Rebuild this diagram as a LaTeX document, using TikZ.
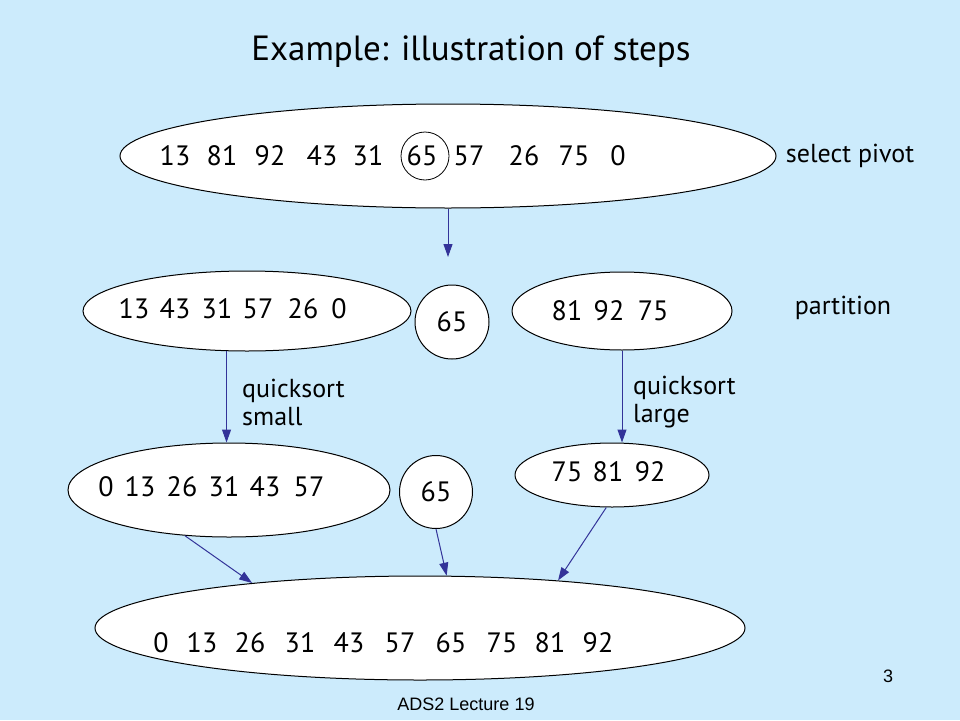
\documentclass[tikz,border=0pt]{standalone}
\usepackage{fontspec}
\setmainfont{PT Sans}
\newfontfamily\footfont{Liberation Sans}
\usetikzlibrary{positioning, arrows.meta, shapes.geometric}
\definecolor{slidebg}{HTML}{CCEBFC}
\definecolor{arrowblue}{HTML}{333399}

\begin{document}
\begin{tikzpicture}[
    x=1pt, y=-1pt,
    >={Triangle[length=13pt, width=9pt]},
    blob/.style={draw, ellipse, fill=white, line width=1pt, inner sep=0pt},
    ring/.style={draw, circle, fill=white, line width=1pt, inner sep=0pt},
    num/.style={font=\fontsize{28}{32}\selectfont, inner sep=0pt},
    lbl/.style={font=\fontsize{26}{28}\selectfont, inner sep=0pt, align=left},
    arr/.style={->, arrowblue, line width=1pt},
]
\fill[slidebg] (0,0) rectangle (960,720);
\useasboundingbox (0,0) rectangle (960,720);

\node[font=\fontsize{35}{40}\selectfont] (title) at (471,52) {Example: illustration of steps};

% select pivot
\node[blob, minimum width=656, minimum height=104] (top) at (448,156) {};
\foreach \v/\x in {13/175, 81/222, 92/270, 43/322, 31/368, 65/422, 57/469, 26/524, 75/574, 0/618}
  \node[num] (top\v) at (\x,156) {\v};
\node[draw, circle, line width=0.8pt, minimum size=48] (pivot) at (425,156) {};
\node[lbl] (selp) at (850,156) {select pivot};
\coordinate (pv) at (448,257);
\draw[arr] (top.south) -- (pv);

% partition
\node[blob, minimum width=328, minimum height=80] (ml) at (247,311) {};
\foreach \v/\x in {13/134, 43/175, 31/217, 57/258, 26/303, 0/339}
  \node[num] (ml\v) at (\x,309) {\v};
\node[ring, minimum size=74, num] (mc) at (452,322) {65};
\node[blob, minimum width=220, minimum height=78] (mr) at (622,311) {};
\foreach \v/\x in {81/567, 92/609, 75/653}
  \node[num] (mr\v) at (\x,311) {\v};
\node[lbl] (part) at (843,308) {partition};

% sorted parts
\node[blob, minimum width=322, minimum height=94] (bl) at (229,490) {};
\foreach \v/\x in {0/106, 13/140, 26/182, 31/224, 43/265, 57/309}
  \node[num] (bl\v) at (\x,487) {\v};
\node[ring, minimum size=73, num] (bc) at (436,492) {65};
\node[blob, minimum width=194, minimum height=64] (br) at (612,475) {};
\foreach \v/\x in {75/567, 81/608, 92/650}
  \node[num] (br\v) at (\x,472) {\v};

\draw[arr] (ml.-117) -- (ml.-117 |- bl.north);
\draw[arr] (mr.south) -- (mr.south |- br.north);
\node[lbl, anchor=west] (qss) at (242,402) {quicksort\\small};
\node[lbl, anchor=west] (qsl) at (633,402) {quicksort\\large};

% result
\node[blob, minimum width=650, minimum height=104] (bot) at (420,628) {};
\foreach \v/\x in {0/161, 13/202, 26/250, 31/300, 43/349, 57/400, 65/451, 75/502, 81/550, 92/598}
  \node[num] (bot\v) at (\x,643) {\v};
\draw[arr] (bl.-134) -- (bot.165);
\draw[arr] (bc.south) -- (bot.63);
\draw[arr] (br.-100) -- (bot.19);

\node[font=\footfont\fontsize{18}{20}\selectfont] (pg) at (888,676) {3};
\node[font=\footfont\fontsize{18}{20}\selectfont] (foot) at (466,704) {ADS2 Lecture 19};
\end{tikzpicture}
\end{document}
